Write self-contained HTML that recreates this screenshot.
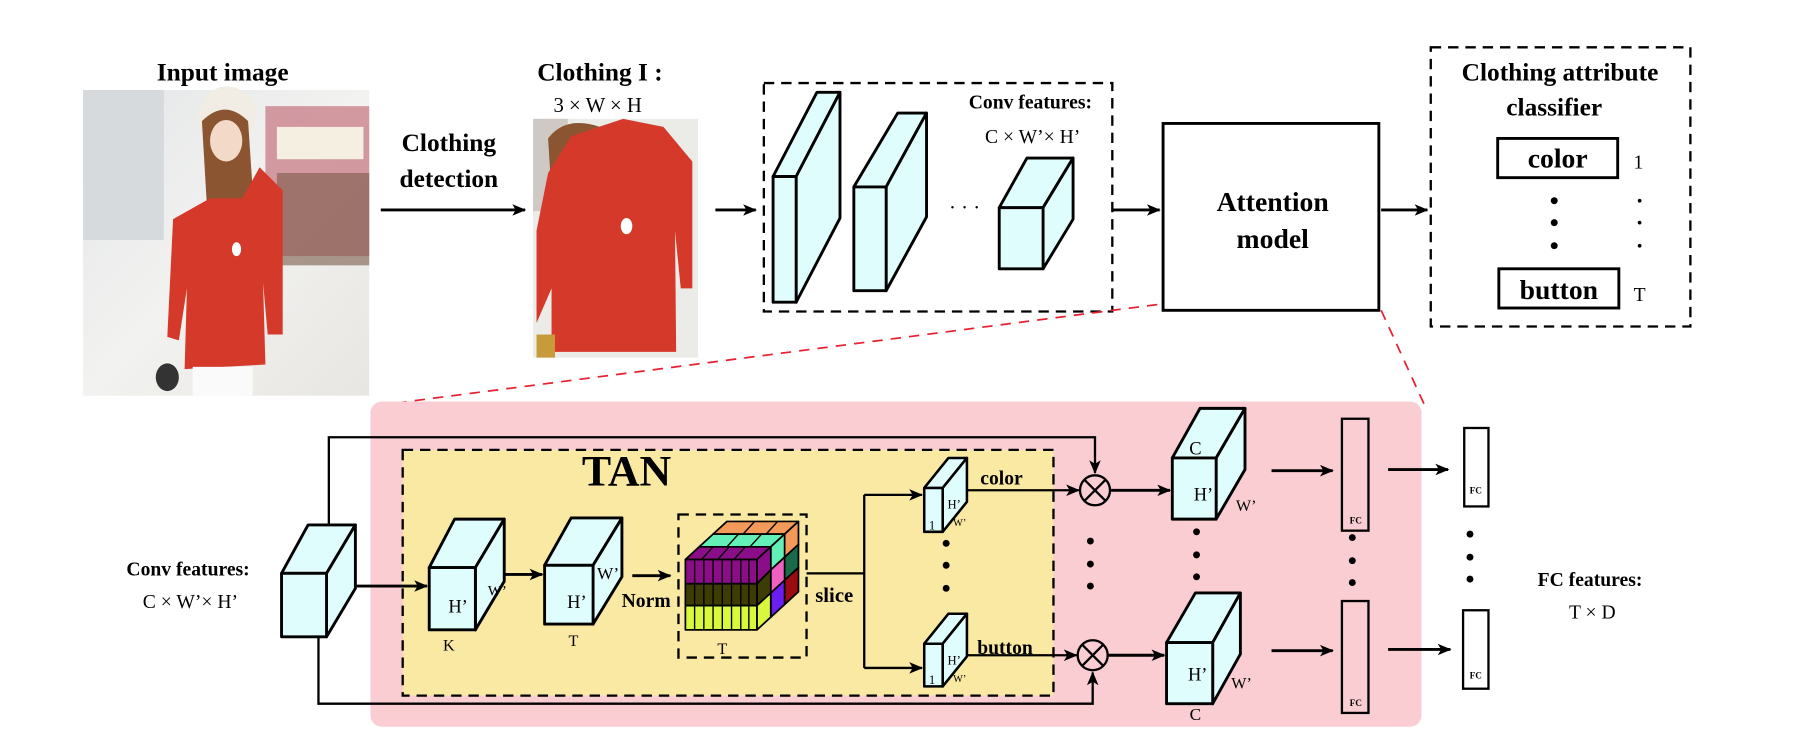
<!DOCTYPE html>
<html><head><meta charset="utf-8"><style>
html,body{margin:0;padding:0;background:#fff;}
svg{display:block;}
text{font-family:"Liberation Serif",serif;fill:#000;}
.b{font-weight:bold;}
</style></head><body>
<svg width="1800" height="736" viewBox="0 0 1560 638" preserveAspectRatio="none" xmlns="http://www.w3.org/2000/svg">
<defs>
<marker id="ah" viewBox="0 0 12 10" refX="11" refY="5" markerWidth="12" markerHeight="10" markerUnits="userSpaceOnUse" orient="auto">
<path d="M0,0 L12,5 L0,10 L3,5 Z" fill="#000"/></marker>
<linearGradient id="bg1" x1="0" y1="0" x2="1" y2="1"><stop offset="0" stop-color="#e4e6e8"/><stop offset="0.5" stop-color="#f2f2f0"/><stop offset="1" stop-color="#e8e6e2"/></linearGradient>
</defs>

<text x="193" y="70" font-size="22" text-anchor="middle" class="b">Input image</text>
<text x="520" y="70" font-size="22" text-anchor="middle" class="b">Clothing I :</text>
<text x="518" y="97" font-size="18" text-anchor="middle">3 × W × H</text>

<!-- Photo 1 -->
<rect x="72" y="78" width="248" height="265" fill="url(#bg1)"/>
<rect x="72" y="78" width="70" height="130" fill="#d6dadd"/>
<rect x="230" y="92" width="90" height="130" fill="#b85060" opacity="0.55"/>
<rect x="240" y="110" width="75" height="28" fill="#f4efe0"/>
<rect x="240" y="150" width="80" height="80" fill="#7a5a4a" opacity="0.6"/>
<circle cx="197" cy="100" r="25" fill="#f1ece4"/>
<path d="M175,105 Q195,85 215,105 L220,180 Q200,205 180,190 Z" fill="#8a5530"/>
<ellipse cx="196" cy="122" rx="14" ry="18" fill="#f3d9c8"/>
<path d="M182,172 L210,172 L225,145 L245,165 L245,290 L232,290 L228,245 L230,316 L160,320 L162,250 L155,295 L145,292 L150,190 Z" fill="#d5392a"/>
<rect x="167" y="318" width="52" height="25" fill="#fafafa"/>
<ellipse cx="145" cy="327" rx="10" ry="12" fill="#333"/>
<!-- Photo 2 -->
<rect x="462" y="103" width="143" height="207" fill="#ebebe8"/>
<rect x="462" y="103" width="30" height="80" fill="#cfc9c6"/>
<path d="M475,120 Q490,100 520,110 L525,200 Q500,215 480,200 Z" fill="#8a5530"/>
<path d="M495,118 L540,103 L575,110 L600,140 L600,250 L590,250 L585,200 L586,305 L478,305 L478,250 L465,280 L465,200 L475,150 Z" fill="#d5392a"/>
<rect x="465" y="290" width="16" height="20" fill="#c79a3a"/>
<ellipse cx="543" cy="196" rx="5" ry="7" fill="#fff"/>
<ellipse cx="205" cy="216" rx="4" ry="6" fill="#fff"/>

<text x="389" y="131" font-size="22" text-anchor="middle" class="b">Clothing</text>
<text x="389" y="162" font-size="22" text-anchor="middle" class="b">detection</text>
<line x1="330" y1="182" x2="455" y2="182" stroke="#000" stroke-width="2.5" marker-end="url(#ah)"/>
<line x1="620" y1="182" x2="655" y2="182" stroke="#000" stroke-width="2.5" marker-end="url(#ah)"/>

<rect x="662" y="72" width="302" height="198" fill="none" stroke="#000" stroke-width="2" stroke-dasharray="9,6"/>
<g fill="#e0fdfd" stroke="#000" stroke-width="2.5" stroke-linejoin="round">
<path d="M670,153 L708,80 L728,80 L690,153 Z"/><path d="M690,153 L728,80 L728,189 L690,262 Z"/><rect x="670" y="153" width="20" height="109"/>
<path d="M740,162 L778,98 L803,98 L768,162 Z"/><path d="M768,162 L803,98 L803,188 L768,252 Z"/><rect x="740" y="162" width="28" height="90"/>
<path d="M866,180 L890,137 L930,137 L904,180 Z"/><path d="M904,180 L930,137 L930,190 L904,233 Z"/><rect x="866" y="180" width="38" height="53"/>
</g>
<text x="836" y="186" font-size="18" text-anchor="middle">· · ·</text>
<text x="893" y="94" font-size="17" text-anchor="middle" class="b">Conv features:</text>
<text x="895" y="124" font-size="17" text-anchor="middle">C × W’× H’</text>
<line x1="964" y1="182" x2="1005" y2="182" stroke="#000" stroke-width="2.5" marker-end="url(#ah)"/>

<rect x="1008" y="107" width="187" height="162" fill="#fff" stroke="#000" stroke-width="2.5"/>
<text x="1103" y="183" font-size="24" text-anchor="middle" class="b">Attention</text>
<text x="1103" y="215" font-size="24" text-anchor="middle" class="b">model</text>
<line x1="1197" y1="182" x2="1237" y2="182" stroke="#000" stroke-width="2.5" marker-end="url(#ah)"/>

<rect x="1240" y="41" width="225" height="242" fill="none" stroke="#000" stroke-width="2" stroke-dasharray="9,6"/>
<text x="1352" y="70" font-size="22" text-anchor="middle" class="b">Clothing  attribute</text>
<text x="1347" y="100" font-size="22" text-anchor="middle" class="b">classifier</text>
<rect x="1298" y="120" width="104" height="34" fill="#fff" stroke="#000" stroke-width="2.5"/>
<text x="1350" y="145" font-size="24" text-anchor="middle" class="b">color</text>
<text x="1420" y="146" font-size="17" text-anchor="middle">1</text>
<rect x="1299" y="233" width="104" height="34" fill="#fff" stroke="#000" stroke-width="2.5"/>
<text x="1351" y="259" font-size="24" text-anchor="middle" class="b">button</text>
<text x="1421" y="261" font-size="17" text-anchor="middle">T</text>
<g fill="#000"><circle cx="1347" cy="174" r="3"/><circle cx="1347" cy="193" r="3"/><circle cx="1347" cy="213" r="3"/>
<circle cx="1421" cy="174" r="1.6"/><circle cx="1421" cy="193" r="1.6"/><circle cx="1421" cy="213" r="1.6"/></g>

<line x1="1003" y1="264" x2="323" y2="352" stroke="#e8202f" stroke-width="1.5" stroke-dasharray="9,7"/>
<line x1="1197" y1="269" x2="1235" y2="352" stroke="#e8202f" stroke-width="1.5" stroke-dasharray="9,7"/>

<!-- pink area -->
<rect x="321" y="348" width="911" height="282" rx="10" fill="#f9cdd2"/>
<rect x="349" y="390" width="564" height="213" fill="#f9e9a2" stroke="#000" stroke-width="2" stroke-dasharray="9,6"/>
<text x="543" y="421" font-size="38" text-anchor="middle" class="b">TAN</text>

<polyline points="285,455 285,379 949,379 949,410" fill="none" stroke="#000" stroke-width="2" marker-end="url(#ah)"/>
<polyline points="276,552 276,610 947,610 947,583" fill="none" stroke="#000" stroke-width="2" marker-end="url(#ah)"/>

<g fill="#e0fdfd" stroke="#000" stroke-width="2.5" stroke-linejoin="round">
<path d="M244,497 L267,455 L308,455 L283,497 Z"/><path d="M283,497 L308,455 L308,510 L283,552 Z"/><rect x="244" y="497" width="39" height="55"/>
<path d="M372,492 L394,450 L437,450 L412,492 Z"/><path d="M412,492 L437,450 L437,504 L412,546 Z"/><rect x="372" y="492" width="40" height="54"/>
<path d="M472,490 L495,449 L539,449 L514,490 Z"/><path d="M514,490 L539,449 L539,500 L514,541 Z"/><rect x="472" y="490" width="42" height="51"/>
</g>
<text x="163" y="499" font-size="17" text-anchor="middle" class="b">Conv features:</text>
<text x="165" y="527" font-size="17" text-anchor="middle">C × W’× H’</text>
<line x1="308" y1="508" x2="370" y2="508" stroke="#000" stroke-width="2.5" marker-end="url(#ah)"/>
<text x="397" y="531" font-size="16" text-anchor="middle">H’</text>
<text x="431" y="516" font-size="13" text-anchor="middle">W’</text>
<text x="389" y="564" font-size="14" text-anchor="middle">K</text>
<line x1="437" y1="498" x2="470" y2="498" stroke="#000" stroke-width="2.5" marker-end="url(#ah)"/>
<text x="500" y="527" font-size="16" text-anchor="middle">H’</text>
<text x="527" y="502" font-size="15" text-anchor="middle">W’</text>
<text x="497" y="560" font-size="14" text-anchor="middle">T</text>
<line x1="548" y1="499" x2="581" y2="499" stroke="#000" stroke-width="2.5" marker-end="url(#ah)"/>
<text x="560" y="526" font-size="17" text-anchor="middle" class="b">Norm</text>

<!-- colored cube -->
<rect x="588" y="446" width="111" height="124" fill="none" stroke="#000" stroke-width="2" stroke-dasharray="9,6"/>
<g stroke="#000" stroke-width="1.5" stroke-linejoin="round">
<!-- slab 2 (back) -->
<path d="M618,463 L630,452 L692,452 L680,463 Z" fill="#f39a5a"/>
<path d="M680,463 L692,452 L692,472 L680,483 Z" fill="#f39a5a"/>
<path d="M680,483 L692,472 L692,492 L680,503 Z" fill="#1a6a4a"/>
<path d="M680,503 L692,492 L692,513 L680,524 Z" fill="#9a0c10"/>
<!-- slab 1 -->
<path d="M606,474 L618,463 L680,463 L668,474 Z" fill="#63f0b8"/>
<path d="M668,474 L680,463 L680,483 L668,494 Z" fill="#63f0b8"/>
<path d="M668,494 L680,483 L680,503 L668,514 Z" fill="#f060c0"/>
<path d="M668,514 L680,503 L680,524 L668,535 Z" fill="#6a1ef0"/>
<!-- slab 0 -->
<path d="M594,485 L606,474 L668,474 L656,485 Z" fill="#8b0d87"/>
<path d="M656,485 L668,474 L668,494 L656,506 Z" fill="#8b0d87"/>
<path d="M656,506 L668,494 L668,514 L656,525 Z" fill="#3e3c05"/>
<path d="M656,525 L668,514 L668,535 L656,546 Z" fill="#d9f73d"/>
<rect x="594" y="485" width="62" height="21" fill="#8b0d87"/>
<rect x="594" y="506" width="62" height="19" fill="#3e3c05"/>
<rect x="594" y="525" width="62" height="21" fill="#d9f73d"/>
</g>
<g stroke="#000" stroke-width="1.2">
<line x1="602" y1="485" x2="602" y2="546"/><line x1="610" y1="485" x2="610" y2="546"/><line x1="618" y1="485" x2="618" y2="546"/><line x1="626" y1="485" x2="626" y2="546"/><line x1="634" y1="485" x2="634" y2="546"/><line x1="642" y1="485" x2="642" y2="546"/><line x1="649" y1="485" x2="649" y2="546"/>
<line x1="608" y1="485" x2="618" y2="474"/><line x1="622" y1="485" x2="632" y2="474"/><line x1="636" y1="485" x2="646" y2="474"/><line x1="630" y1="474" x2="640" y2="463"/><line x1="650" y1="474" x2="660" y2="463"/><line x1="644" y1="463" x2="654" y2="452"/><line x1="664" y1="463" x2="674" y2="452"/>
</g>
<text x="626" y="567" font-size="14" text-anchor="middle">T</text>

<!-- slice -->
<line x1="699" y1="497" x2="749" y2="497" stroke="#000" stroke-width="2"/>
<line x1="749" y1="429" x2="749" y2="579" stroke="#000" stroke-width="2"/>
<line x1="749" y1="429" x2="799" y2="429" stroke="#000" stroke-width="2" marker-end="url(#ah)"/>
<line x1="749" y1="579" x2="799" y2="579" stroke="#000" stroke-width="2" marker-end="url(#ah)"/>
<text x="723" y="522" font-size="18" text-anchor="middle" class="b">slice</text>

<g fill="#e0fdfd" stroke="#000" stroke-width="2.2" stroke-linejoin="round">
<path d="M801,423 L822,397 L838,397 L817,423 Z"/><path d="M817,423 L838,397 L838,435 L817,461 Z"/><rect x="801" y="423" width="16" height="38"/>
<path d="M801,558 L822,532 L838,532 L817,558 Z"/><path d="M817,558 L838,532 L838,569 L817,595 Z"/><rect x="801" y="558" width="16" height="37"/>
</g>
<text x="827" y="441" font-size="11" text-anchor="middle">H’</text><text x="805" y="459" font-size="11">1</text><text x="826" y="456" font-size="9">W’</text>
<text x="827" y="576" font-size="11" text-anchor="middle">H’</text><text x="805" y="593" font-size="11">1</text><text x="826" y="591" font-size="9">W’</text>
<text x="868" y="420" font-size="17" text-anchor="middle" class="b">color</text>
<text x="871" y="567" font-size="17" text-anchor="middle" class="b">button</text>
<line x1="838" y1="425" x2="935" y2="425" stroke="#000" stroke-width="2" marker-end="url(#ah)"/>
<line x1="838" y1="568" x2="933" y2="568" stroke="#000" stroke-width="2" marker-end="url(#ah)"/>

<g fill="none" stroke="#000" stroke-width="2">
<circle cx="949" cy="425" r="13"/><line x1="940" y1="416" x2="958" y2="434"/><line x1="958" y1="416" x2="940" y2="434"/>
<circle cx="947" cy="568" r="13"/><line x1="938" y1="559" x2="956" y2="577"/><line x1="956" y1="559" x2="938" y2="577"/>
</g>
<line x1="962" y1="425" x2="1014" y2="425" stroke="#000" stroke-width="2.5" marker-end="url(#ah)"/>
<line x1="960" y1="568" x2="1009" y2="568" stroke="#000" stroke-width="2.5" marker-end="url(#ah)"/>

<g fill="#000">
<circle cx="820" cy="471" r="3"/><circle cx="820" cy="490" r="3"/><circle cx="820" cy="510" r="3"/>
<circle cx="945" cy="469" r="3"/><circle cx="945" cy="489" r="3"/><circle cx="945" cy="508" r="3"/>
<circle cx="1037" cy="461" r="3"/><circle cx="1037" cy="481" r="3"/><circle cx="1037" cy="500" r="3"/>
<circle cx="1172" cy="466" r="3"/><circle cx="1172" cy="486" r="3"/><circle cx="1172" cy="505" r="3"/>
<circle cx="1274" cy="463" r="3"/><circle cx="1274" cy="483" r="3"/><circle cx="1274" cy="502" r="3"/>
</g>

<g fill="#e0fdfd" stroke="#000" stroke-width="2.5" stroke-linejoin="round">
<path d="M1016,397 L1040,354 L1079,354 L1054,397 Z"/><path d="M1054,397 L1079,354 L1079,407 L1054,450 Z"/><rect x="1016" y="397" width="38" height="53"/>
<path d="M1011,557 L1036,514 L1075,514 L1051,557 Z"/><path d="M1051,557 L1075,514 L1075,567 L1051,610 Z"/><rect x="1011" y="557" width="40" height="53"/>
</g>
<text x="1036" y="394" font-size="16" text-anchor="middle">C</text>
<text x="1043" y="434" font-size="16" text-anchor="middle">H’</text>
<text x="1080" y="443" font-size="14" text-anchor="middle">W’</text>
<text x="1038" y="590" font-size="16" text-anchor="middle">H’</text>
<text x="1076" y="597" font-size="14" text-anchor="middle">W’</text>
<text x="1036" y="624" font-size="15" text-anchor="middle">C</text>

<line x1="1102" y1="408" x2="1155" y2="408" stroke="#000" stroke-width="2.5" marker-end="url(#ah)"/>
<line x1="1102" y1="564" x2="1155" y2="564" stroke="#000" stroke-width="2.5" marker-end="url(#ah)"/>
<rect x="1163" y="363" width="23" height="97" fill="#f9cdd2" stroke="#000" stroke-width="2"/>
<rect x="1163" y="521" width="23" height="97" fill="#f9cdd2" stroke="#000" stroke-width="2"/>
<text x="1175" y="454" font-size="8" text-anchor="middle" class="b">FC</text>
<text x="1175" y="612" font-size="8" text-anchor="middle" class="b">FC</text>
<line x1="1203" y1="407" x2="1255" y2="407" stroke="#000" stroke-width="2.5" marker-end="url(#ah)"/>
<line x1="1203" y1="563" x2="1257" y2="563" stroke="#000" stroke-width="2.5" marker-end="url(#ah)"/>
<rect x="1269" y="371" width="21" height="68" fill="#fff" stroke="#000" stroke-width="2"/>
<rect x="1268" y="529" width="22" height="68" fill="#fff" stroke="#000" stroke-width="2"/>
<text x="1279" y="428" font-size="8" text-anchor="middle" class="b">FC</text>
<text x="1279" y="588" font-size="8" text-anchor="middle" class="b">FC</text>
<text x="1378" y="508" font-size="17" text-anchor="middle" class="b">FC features:</text>
<text x="1380" y="536" font-size="17" text-anchor="middle">T × D</text>
</svg>
</body></html>
